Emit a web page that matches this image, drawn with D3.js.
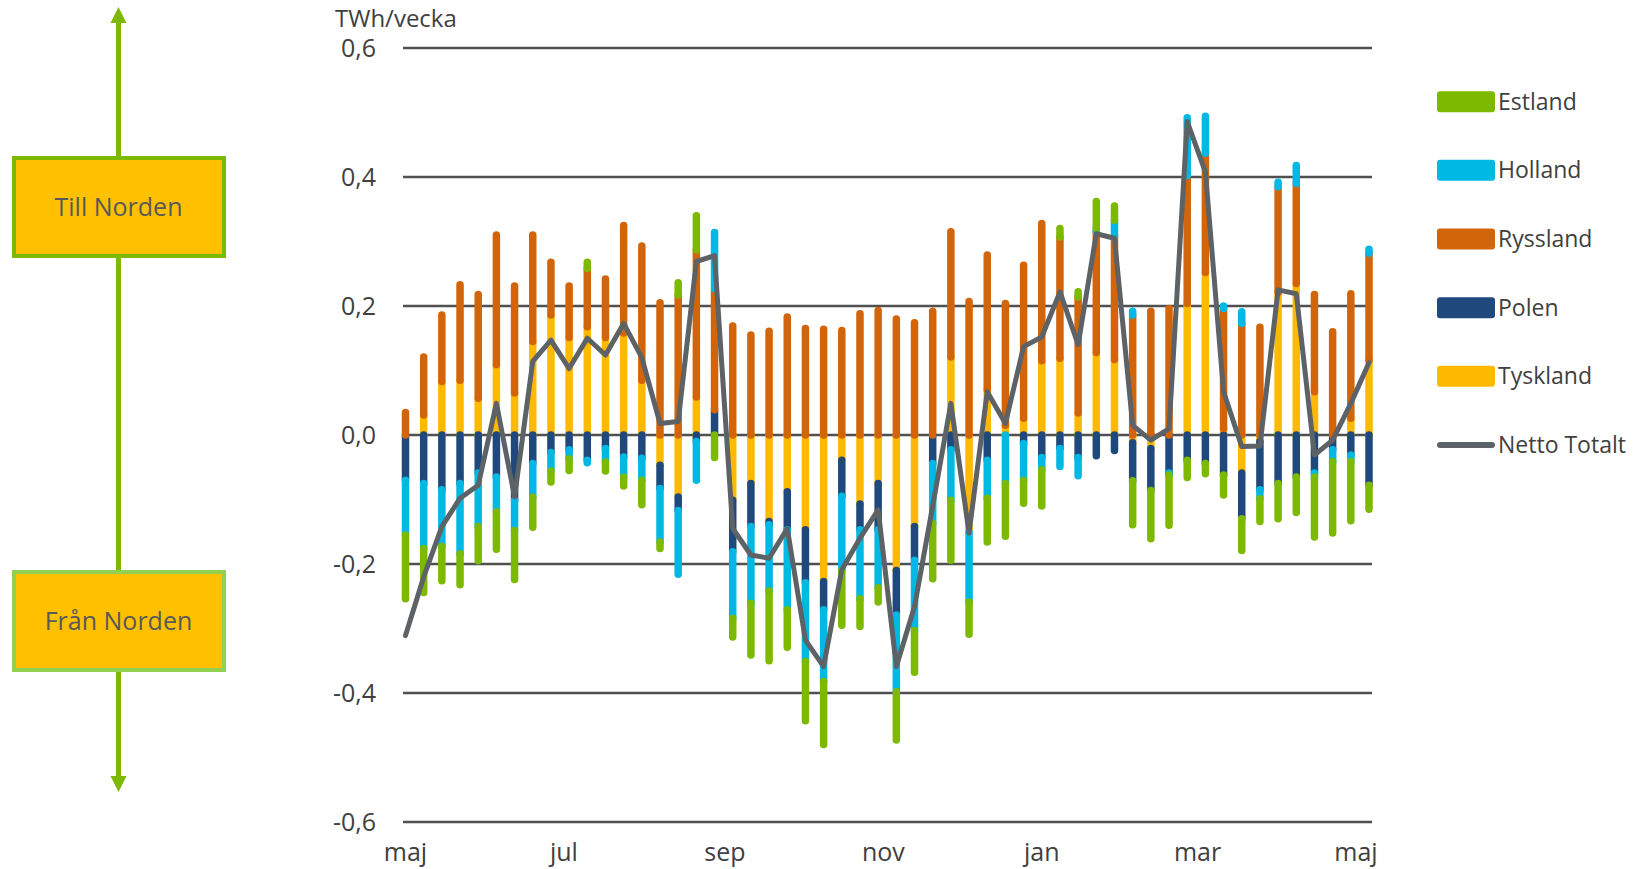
<!DOCTYPE html>
<html>
<head>
<meta charset="utf-8">
<title>Utbyte</title>
<script src="https://cdnjs.cloudflare.com/ajax/libs/d3/7.8.5/d3.min.js"></script>
<style>
    body { margin: 0; background: #fff; }
    svg text { font-family: "Open Sans", "Noto Sans", sans-serif; fill: #404040; }
</style>
</head>
<body>
<div id="chart-area"></div>
<script>

// weekly values, TWh/vecka, first week starts 1 maj
let firstWeek = "2019-05-01";
let monthLabels = ["maj", "jul", "sep", "nov", "jan", "mar", "maj"];
let yTicks = [0.6, 0.4, 0.2, 0.0, -0.2, -0.4, -0.6];

let countries = ["Estland", "Holland", "Ryssland", "Polen", "Tyskland"];

let tyskland = [0, 0.031, 0.083, 0.085, 0.057, 0.109, 0.065, 0.145, 0.186, 0.151, 0.168, 0.151, 0.158, 0.085,
    -0.047, -0.096, 0.059, 0, -0.101, -0.075, -0.134, -0.088, -0.147, -0.227, -0.039, -0.107, -0.075,
    -0.210, -0.142, 0, 0.121, -0.150, 0.070, 0.015, 0.026, 0.115, 0.119, 0.034, 0.128, 0.117,
    -0.012, -0.021, 0, 0.204, 0.252, 0.010, -0.059, -0.010, 0.221, 0.235, 0.067, 0, 0.026, 0.116];

let polen = [-0.070, -0.075, -0.085, -0.075, -0.059, -0.065, -0.101, -0.044, -0.027, -0.023, -0.039, -0.021, -0.034, -0.036,
    -0.036, -0.021, -0.010, 0.039, -0.080, -0.067, -0.005, -0.059, -0.082, -0.044, -0.056, -0.040, -0.072,
    -0.069, -0.052, -0.044, -0.023, 0, -0.039, 0, -0.013, -0.035, -0.021, -0.035, -0.032, -0.024,
    -0.059, -0.065, -0.059, -0.039, -0.044, -0.062, -0.071, -0.075, -0.075, -0.065, -0.059, -0.023, -0.031, -0.078];

let ryssland = [0.035, 0.090, 0.103, 0.148, 0.161, 0.201, 0.166, 0.165, 0.082, 0.080, 0.090, 0.091, 0.167, 0.208,
    0.205, 0.217, 0.228, 0.188, 0.169, 0.155, 0.161, 0.183, 0.165, 0.164, 0.162, 0.188, 0.193,
    0.180, 0.174, 0.192, 0.194, 0.207, 0.209, 0.189, 0.237, 0.213, 0.188, 0.180, 0.187, 0.190,
    0.186, 0.192, 0.196, 0.198, 0.185, 0.186, 0.173, 0.167, 0.164, 0.155, 0.151, 0.160, 0.193, 0.166];

let holland = [-0.085, -0.101, -0.088, -0.109, -0.083, -0.054, -0.047, -0.052, -0.029, -0.014, -0.004, -0.021, -0.031, -0.034,
    -0.083, -0.099, -0.060, 0.087, -0.103, -0.119, -0.103, -0.124, -0.122, -0.111, -0.115, -0.107, -0.090,
    -0.119, -0.109, -0.093, -0.078, -0.109, -0.059, -0.075, -0.057, -0.019, -0.028, -0.028, 0.005, 0.026,
    0.006, 0, -0.003, 0.090, 0.057, 0.004, 0.018, -0.014, 0.007, 0.028, -0.006, -0.018, -0.010, 0.006];

let estland = [-0.099, -0.068, -0.053, -0.048, -0.053, -0.058, -0.076, -0.047, -0.017, -0.018, 0.010, -0.014, -0.014, -0.038,
    -0.010, 0.019, 0.053, -0.035, -0.029, -0.080, -0.108, -0.058, -0.092, -0.098, -0.085, -0.043, -0.022,
    -0.075, -0.065, -0.086, -0.093, -0.050, -0.068, -0.082, -0.036, -0.056, 0.013, 0.008, 0.042, 0.022,
    -0.068, -0.075, -0.078, -0.027, -0.016, -0.031, -0.049, -0.035, -0.055, -0.055, -0.093, -0.111, -0.092, -0.037];

let nettoTotalt = [-0.311, -0.220, -0.142, -0.098, -0.078, 0.049, -0.096, 0.114, 0.147, 0.103, 0.150, 0.124, 0.173, 0.120,
    0.018, 0.021, 0.269, 0.278, -0.145, -0.186, -0.191, -0.145, -0.318, -0.359, -0.209, -0.160, -0.116,
    -0.359, -0.266, -0.110, 0.049, -0.152, 0.067, 0.018, 0.137, 0.152, 0.222, 0.140, 0.312, 0.305,
    0.015, -0.008, 0.010, 0.486, 0.408, 0.067, -0.018, -0.017, 0.225, 0.219, -0.031, -0.008, 0.049, 0.112];

let colors = {
    Estland: "#7cb900",
    Holland: "#00b8e4",
    Ryssland: "#d2640a",
    Polen: "#1f487c",
    Tyskland: "#ffb900"
};


class ExchangeVis {
    constructor(_parentElement) {
        this.parentElement = _parentElement;
        this.displayData = [];

        this.initVis();
    }

    initVis() {
        let vis = this;

        vis.width = 1637;
        vis.height = 869;

        vis.svg = d3.select("#" + vis.parentElement).append("svg")
            .attr("width", vis.width)
            .attr("height", vis.height);

        vis.start = d3.timeParse("%Y-%m-%d")(firstWeek);
        vis.weeks = d3.range(nettoTotalt.length).map(i => d3.timeDay.offset(vis.start, i * 7));

        vis.x = d3.scaleTime()
            .domain([vis.weeks[0], vis.weeks[vis.weeks.length - 1]])
            .range([405.5, 1369]);

        vis.y = d3.scaleLinear()
            .domain([-0.6, 0.6])
            .range([822, 48]);

        // horizontal grid lines + tick labels
        vis.svg.selectAll(".grid")
            .data(yTicks)
            .enter().append("line")
            .attr("class", "grid")
            .attr("x1", 403)
            .attr("x2", 1372)
            .attr("y1", d => vis.y(d))
            .attr("y2", d => vis.y(d))
            .attr("stroke", "#505050")
            .attr("stroke-width", 2.5);

        vis.svg.selectAll(".y-label")
            .data(yTicks)
            .enter().append("text")
            .attr("class", "y-label")
            .attr("x", 376)
            .attr("y", d => vis.y(d))
            .attr("dy", "0.35em")
            .attr("text-anchor", "end")
            .style("font-size", "25px")
            .text(d => d3.format(".1f")(d).replace(".", ",").replace("−", "-"));

        vis.svg.append("text")
            .attr("x", 335)
            .attr("y", 27)
            .style("font-size", "24px")
            .text("TWh/vecka");

        // month labels every second month
        let months = d3.timeMonth.every(2).range(vis.start, d3.timeDay.offset(vis.weeks[vis.weeks.length - 1], 1));
        vis.svg.selectAll(".x-label")
            .data(months)
            .enter().append("text")
            .attr("class", "x-label")
            .attr("x", d => vis.x(d))
            .attr("y", 861)
            .attr("text-anchor", "middle")
            .style("font-size", "25px")
            .text((d, i) => monthLabels[i]);

        vis.drawSide();
        vis.drawLegend();

        vis.wrangleData();
    }

    drawSide() {
        let vis = this;
        let green = "#7cb900";
        let cx = 118.5;

        vis.svg.append("line")
            .attr("x1", cx).attr("x2", cx)
            .attr("y1", 20).attr("y2", 778)
            .attr("stroke", green)
            .attr("stroke-width", 5);

        vis.svg.append("path")
            .attr("d", `M${cx},7 L${cx + 8},23 L${cx - 8},23 Z`)
            .attr("fill", green);
        vis.svg.append("path")
            .attr("d", `M${cx},792 L${cx + 8},776 L${cx - 8},776 Z`)
            .attr("fill", green);

        let boxes = [
            {label: "Till Norden", y: 158, stroke: "#7cb900"},
            {label: "Från Norden", y: 572, stroke: "#92d050"}
        ];

        boxes.forEach(b => {
            vis.svg.append("rect")
                .attr("x", 14).attr("y", b.y)
                .attr("width", 210).attr("height", 98)
                .attr("fill", "#ffc000")
                .attr("stroke", b.stroke)
                .attr("stroke-width", 4);
            vis.svg.append("text")
                .attr("x", cx)
                .attr("y", b.y + 49)
                .attr("dy", "0.35em")
                .attr("text-anchor", "middle")
                .style("font-size", "25px")
                .style("fill", "#595959")
                .text(b.label);
        });
    }

    drawLegend() {
        let vis = this;
        let rowY = d3.scaleLinear().domain([0, 5]).range([101.7, 445]);

        let legend = vis.svg.append("g").attr("class", "legend");

        countries.forEach((c, i) => {
            legend.append("rect")
                .attr("x", 1437).attr("y", rowY(i) - 10.5)
                .attr("width", 58).attr("height", 21)
                .attr("rx", 3)
                .attr("fill", colors[c]);
            legend.append("text")
                .attr("x", 1498).attr("y", rowY(i))
                .attr("dy", "0.35em")
                .style("font-size", "23px")
                .text(c);
        });

        legend.append("line")
            .attr("x1", 1440).attr("x2", 1492)
            .attr("y1", rowY(5)).attr("y2", rowY(5))
            .attr("stroke", "#5d6266")
            .attr("stroke-width", 6)
            .attr("stroke-linecap", "round");
        legend.append("text")
            .attr("x", 1498).attr("y", rowY(5))
            .attr("dy", "0.35em")
            .style("font-size", "23px")
            .text("Netto Totalt");
    }

    wrangleData() {
        let vis = this;

        let series = {Tyskland: tyskland, Polen: polen, Ryssland: ryssland, Holland: holland, Estland: estland};

        vis.rows = vis.weeks.map((w, i) => {
            let row = {date: w};
            countries.forEach(c => row[c] = series[c][i]);
            return row;
        });

        // excel-like stacking: first series sits closest to zero
        vis.stackKeys = countries.slice().reverse();
        vis.stacked = d3.stack()
            .keys(vis.stackKeys)
            .offset(d3.stackOffsetDiverging)(vis.rows);

        vis.displayData = [];
        vis.stacked.forEach(layer => {
            layer.forEach(d => {
                if (d[0] !== d[1]) {
                    vis.displayData.push({key: layer.key, date: d.data.date, y0: d[0], y1: d[1]});
                }
            });
        });

        vis.updateVis();
    }

    updateVis() {
        let vis = this;

        let seg = vis.svg.selectAll(".seg")
            .data(vis.displayData);

        seg.enter().append("line")
            .attr("class", "seg")
            .merge(seg)
            .attr("x1", d => vis.x(d.date))
            .attr("x2", d => vis.x(d.date))
            .attr("y1", d => vis.y(d.y0))
            .attr("y2", d => vis.y(d.y1))
            .attr("stroke", d => colors[d.key])
            .attr("stroke-width", 7.5)
            .attr("stroke-linecap", "round");

        seg.exit().remove();

        let line = d3.line()
            .x((d, i) => vis.x(vis.weeks[i]))
            .y(d => vis.y(d));

        vis.svg.append("path")
            .datum(nettoTotalt)
            .attr("d", line)
            .attr("fill", "none")
            .attr("stroke", "#5d6266")
            .attr("stroke-width", 5)
            .attr("stroke-linejoin", "round")
            .attr("stroke-linecap", "round");
    }
}

new ExchangeVis("chart-area");
</script>
</body>
</html>
